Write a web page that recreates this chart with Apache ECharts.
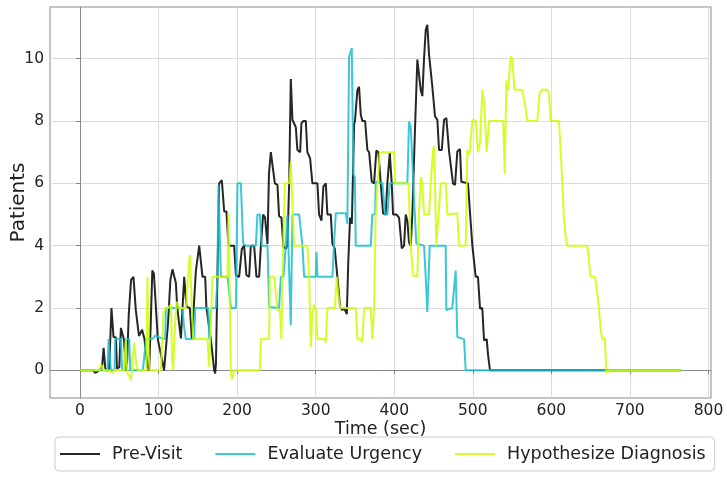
<!DOCTYPE html>
<html>
<head>
<meta charset="utf-8">
<script src="https://cdn.jsdelivr.net/npm/echarts@6/dist/echarts.min.js"></script>
<style>
  html, body { margin: 0; padding: 0; background: #fff; }
  #chart { width: 727px; height: 497px; }
</style>
</head>
<body>
<div id="chart"></div>
<script>
// Patients in each stage over time, as [seconds, patients] samples.
const preVisit = [[0,0],[17,0],[19,-0.08],[22,-0.05],[24,0],[28,0.1],[30,0.72],[32,0.1],[33,0],[37,0],[40,2.0],[42.6,1.07],[45.7,1.05],[47,0.05],[48.6,0],[50,0.1],[52,1.36],[53.5,1.3],[56,0.97],[58.4,0],[60,0.3],[62,1.8],[65,2.9],[68,3.0],[71,1.93],[75,1.1],[79,1.3],[82,1.0],[86,0.1],[88,0],[90,1.5],[92,3.2],[94,3.1],[96,3.1],[99,1.0],[103,0.5],[107,0],[109,0],[112,1.5],[115,2.9],[117.7,3.24],[122,2.8],[123.7,2.03],[128.4,1.02],[130.4,1.0],[132.6,3.0],[135.5,2.03],[139.8,2.0],[142.4,1.0],[144,1.0],[147.5,3.2],[151.7,4.0],[153.8,4.0],[155.9,3.0],[159.3,3.0],[160.9,2.0],[163,2.0],[166.5,1.0],[170.7,0.02],[172,-0.1],[173,0.2],[174.9,3.0],[177.1,6.0],[180.5,6.1],[183.5,5.1],[186.4,5.1],[188.9,4.0],[196.2,4.0],[198.4,3.05],[202.5,3.0],[206,3.9],[208.9,4.0],[211.8,3.05],[215.3,3.0],[217.4,4.0],[221.6,4.0],[224.6,3.0],[228,3.0],[230.2,4.0],[233.1,5.0],[235.5,4.9],[238.6,4.05],[240.5,6.3],[242.9,7.0],[244.9,7.0],[248,6.0],[251.3,5.95],[253.4,4.95],[256.4,4.9],[258.9,3.96],[262,3.9],[264,4.0],[266.2,6.0],[268.3,9.35],[270.4,8.04],[272.5,8.1],[274.7,7.8],[276.7,7.07],[280.2,7.0],[281.8,7.93],[284.4,8.0],[287.4,8.0],[289.4,7.0],[292.9,6.8],[295.8,6.0],[302.2,6.0],[304.3,5.0],[307.3,4.8],[309.8,5.9],[312.9,6.0],[314.9,5.0],[319.2,5.0],[321.3,4.07],[324.3,3.9],[327.6,3.0],[331.1,2.03],[334,1.93],[336.1,2.0],[339.6,1.8],[341.5,3.5],[343.8,4.9],[346,4.7],[348.9,7.9],[350,8.0],[353.1,9.0],[355.2,9.1],[357.4,8.2],[359.4,8.0],[362.9,8.0],[365.8,7.07],[368,7.0],[371.4,6.05],[374.3,6.0],[377.2,7.05],[379.8,7.0],[382.8,6.0],[385.8,5.04],[389.2,5.0],[391.2,6.0],[394.3,6.97],[396.8,6.0],[398.5,5.0],[402.7,5.0],[406.1,4.9],[409.6,3.91],[412.5,4.0],[414.6,5.0],[416.7,4.8],[418.8,4.1],[421,4.0],[423,5.0],[426.5,7.8],[429.4,9.97],[431.6,10.0],[433.7,9.0],[435.8,8.8],[437.9,10.0],[440.1,10.93],[442.1,11.09],[444.3,10.13],[446.4,10.1],[448.5,9.1],[451.9,8.15],[454.9,8.04],[457,7.07],[460.5,7.07],[463.4,8.04],[466.3,8.1],[469.7,7.05],[471.9,7.0],[474.8,6.0],[477.4,5.95],[480.3,7.02],[483.7,7.1],[485.4,6.05],[493.9,6.0],[496.5,5.04],[499.4,4.02],[501.5,4.0],[503.7,3.0],[506.6,3.0],[509.2,1.98],[512.1,2.0],[514.3,0.96],[517.7,1.0],[519.4,0.5],[521.9,0],[765,0]];

const evaluateUrgency = [[0,0],[35,0],[36.3,1.0],[37.5,1.0],[39.3,0],[44,0],[44.8,1.0],[52,1.0],[53.5,0],[57.5,0],[58.4,1.0],[62.6,1.0],[64,0],[80,0],[82,0.5],[84,1.0],[92,1.0],[96,1.12],[101,1.05],[103,1.0],[108.4,1.0],[109.3,2.0],[130.4,2.0],[132,1.5],[134.7,1.0],[145.3,1.0],[146.6,2.0],[163.1,2.0],[164.4,1.0],[166,1.0],[166.9,2.0],[172.9,2.0],[174.9,3.0],[176.2,5.95],[178,5.9],[179.3,3.0],[187.7,3.0],[190,2.5],[192,2.0],[198.4,2.0],[200.4,6.0],[204.7,6.0],[207.6,4.07],[211.1,4.0],[223.8,4.0],[225.8,5.0],[228.9,5.0],[231.4,4.0],[238.6,4.0],[240.7,2.03],[253.4,2.0],[255.6,3.0],[258.9,3.0],[262,4.0],[264,5.0],[266.2,5.0],[268.3,1.45],[270.4,5.0],[278.9,5.0],[281,4.5],[283.1,4.0],[285.3,3.0],[300.1,3.0],[301,3.8],[302.2,3.0],[321.3,3.0],[323.4,4.07],[325.6,5.04],[338.3,5.04],[340.3,4.7],[342.5,10.07],[345.9,10.34],[348,6.3],[349.8,6.2],[351,4.0],[370.1,4.0],[372.1,5.0],[375.6,5.0],[376.5,6.05],[385,6.0],[388.3,5.0],[391.2,5.0],[394.3,6.0],[416.7,6.0],[418.8,7.98],[421,7.8],[423,6.75],[425.2,5.5],[428.1,4.07],[437.9,4.0],[440.1,3.0],[442.1,1.87],[444.3,1.85],[445.2,4.0],[465.5,4.0],[466.3,1.93],[467.6,1.93],[473.9,2.0],[478.2,3.2],[480.3,1.07],[488.8,1.0],[491,0],[765,0]];

const hypothesizeDiagnosis = [[0,0],[25,0],[26.6,0.2],[28.2,0.15],[30,0],[38,0],[41,-0.1],[43,0],[56,0],[58.4,1.0],[59.5,0.2],[60.4,-0.1],[63,-0.2],[64.8,-0.32],[67,0.3],[69,0.9],[71.9,0.1],[74,0],[84.5,0],[85.9,3.0],[87.5,0.5],[88.5,0],[102.9,0],[104.6,1.0],[106.2,1.82],[108.4,2.0],[111.3,2.0],[115.7,2.1],[117.3,0.3],[118.5,0],[120,1.0],[122.8,2.2],[126.2,2.0],[134.7,2.0],[136.8,2.8],[139.8,3.7],[142.4,2.0],[144,1.0],[162.2,1.0],[164.4,0.1],[166.5,0.06],[168.6,3.0],[187.7,3.0],[188.9,5.04],[189.8,4.07],[190.7,2.0],[192,0.0],[193.3,-0.3],[196.2,0],[228.9,0],[230.2,1.0],[240.7,1.0],[241.6,3.0],[247.1,3.0],[251.3,1.93],[254.5,1.93],[256.4,1.0],[257.6,3.0],[260.7,6.0],[266.2,6.0],[268.3,6.7],[270.4,6.7],[272.5,4.0],[289.4,4.0],[291.6,3.0],[293.8,0.75],[295.8,1.8],[298,2.1],[300.1,2.0],[302.2,1.0],[310.7,1.0],[312.9,0.9],[314.9,2.0],[324.3,2.0],[326.9,3.0],[328.5,2.5],[331.1,2.0],[351,2.0],[353.1,1.0],[357.4,1.0],[359.4,0.9],[361.6,2.0],[370.1,2.0],[372.1,1.0],[374.3,2.0],[376.5,5.1],[381.6,7.0],[399.8,7.0],[401,6.0],[418,6.0],[421,4.0],[423.9,3.05],[429.4,3.0],[431.6,5.0],[433.7,6.2],[435.8,6.0],[437.9,5.0],[444.3,5.0],[446.4,6.0],[449.4,7.07],[450.7,7.2],[453.6,4.0],[456.1,4.0],[459.2,6.0],[465.5,6.0],[467.6,5.0],[480.3,5.04],[482.4,4.0],[491,4.0],[493,7.07],[495.2,6.9],[496.5,7.1],[499.4,8.04],[503.7,8.0],[506.6,7.0],[509.2,7.3],[512.1,9.0],[514.3,8.6],[517.7,7.0],[520.6,8.0],[538.8,8.0],[540.6,6.3],[542.8,9.3],[545.2,9.0],[548,10.07],[550.3,10.0],[553,9.0],[563,9.0],[567.3,8.4],[569.4,8.0],[582.1,8.0],[585.1,8.9],[588.4,9.0],[594.8,9.0],[597,8.9],[599.1,8.0],[609.7,8.0],[612,7.0],[614,6.0],[616,4.9],[618.2,4.3],[620.2,4.0],[645.7,4.0],[647.9,3.5],[650,3.0],[655.5,3.0],[658.4,2.5],[660.6,2.0],[662.7,1.3],[664.8,1.0],[668.2,1.0],[669.9,0],[671.1,-0.1],[672.4,0],[765,0]];

const seriesNames = ['Pre-Visit', 'Evaluate Urgency', 'Hypothesize Diagnosis'];
const seriesColors = ['#000000', '#17becf', '#ccff00'];
const xTicks = [0, 100, 200, 300, 400, 500, 600, 700, 800];
const yTicks = [0, 2, 4, 6, 8, 10];

const FONT = 'DejaVu Sans';
const chart = echarts.init(document.getElementById('chart'), null, { renderer: 'canvas' });

const seriesData = [preVisit, evaluateUrgency, hypothesizeDiagnosis];

chart.setOption({
  animation: false,
  backgroundColor: '#ffffff',
  textStyle: { fontFamily: FONT },
  grid: {
    left: 50, right: 16, top: 7, bottom: 99,
    containLabel: false, outerBoundsMode: 'none',
    show: true, borderColor: '#888888', borderWidth: 1, backgroundColor: 'transparent'
  },
  legend: {
    data: seriesNames,
    left: 55, top: 437,
    padding: [8, 9, 8, 5],
    icon: 'rect',
    itemWidth: 40, itemHeight: 2, itemGap: 33,
    borderColor: '#cccccc', borderWidth: 1, borderRadius: 4,
    backgroundColor: '#ffffff',
    textStyle: { fontFamily: FONT, fontSize: 17.5, color: '#222', padding: [0, 0, 0, 7] }
  },
  xAxis: {
    type: 'value',
    min: -38.25, max: 803.25,
    name: 'Time (sec)', nameLocation: 'middle', nameGap: 22, nameMoveOverlap: false,
    nameTextStyle: { fontFamily: FONT, fontSize: 17.5, color: '#222' },
    axisLine: { show: true, lineStyle: { color: '#888888' } },
    axisTick: { show: true, inside: false, length: 4, customValues: xTicks, lineStyle: { color: '#888888' } },
    axisLabel: { customValues: xTicks, margin: 5, fontFamily: FONT, fontSize: 15.5, color: '#222' },
    splitLine: { show: true, lineStyle: { color: '#dcdcdc', width: 1 } }
  },
  yAxis: {
    type: 'value',
    min: -0.89, max: 11.66,
    name: 'Patients', nameLocation: 'middle', nameGap: 21, nameRotate: 90, nameMoveOverlap: false,
    nameTextStyle: { fontFamily: FONT, fontSize: 20, color: '#222' },
    axisLine: { show: true, lineStyle: { color: '#888888' } },
    axisTick: { show: true, inside: false, length: 4, customValues: yTicks, lineStyle: { color: '#888888' } },
    axisLabel: { customValues: yTicks, margin: 6, fontFamily: FONT, fontSize: 15.5, color: '#222' },
    splitLine: { show: true, lineStyle: { color: '#dcdcdc', width: 1 } }
  },
  series: seriesNames.map((name, i) => ({
    name: name,
    type: 'line',
    data: seriesData[i],
    symbol: 'none',
    color: seriesColors[i],
    lineStyle: { color: seriesColors[i], width: 2, opacity: 0.85 },
    itemStyle: { color: seriesColors[i], opacity: 0.85 },
    z: 2 + i
  }))
});
</script>
</body>
</html>
